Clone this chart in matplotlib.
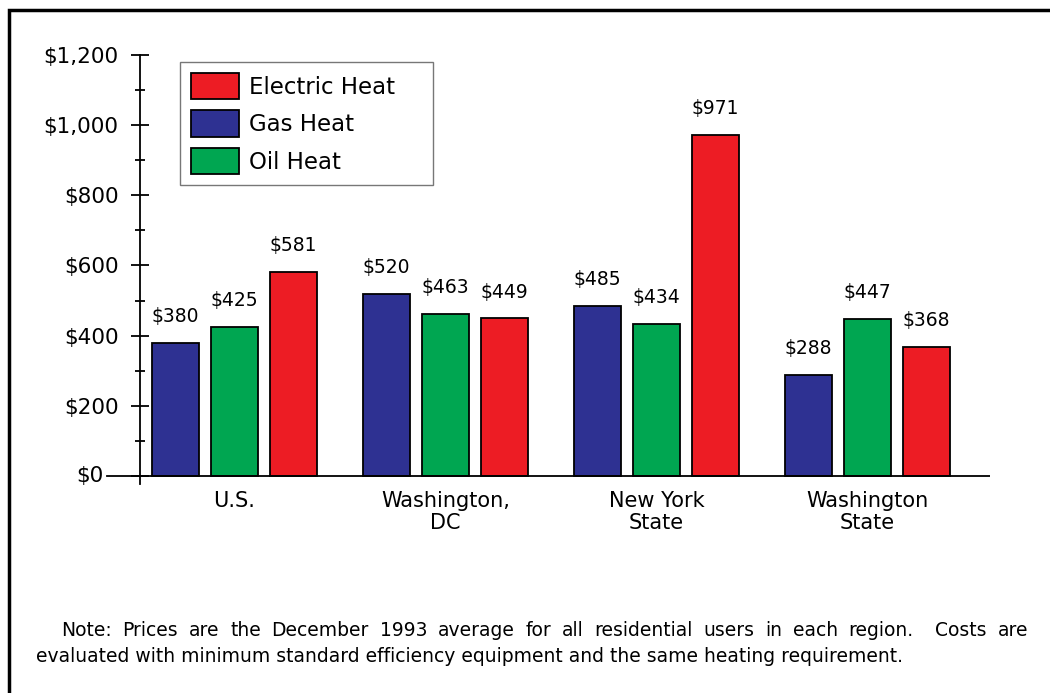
import matplotlib.pyplot as plt
from matplotlib.patches import Rectangle, Patch
from matplotlib.ticker import MultipleLocator, FuncFormatter

regions = ['U.S.', 'Washington,\nDC', 'New York\nState', 'Washington\nState']
gas_heat = [380, 520, 485, 288]
oil_heat = [425, 463, 434, 447]
electric_heat = [581, 449, 971, 368]

note_line1 = "Note: Prices are the December 1993 average for all residential users in each region.  Costs are"
note_line2 = "evaluated with minimum standard efficiency equipment and the same heating requirement."

blue = '#2E3192'
green = '#00A651'
red = '#ED1C24'

plt.rcParams['font.family'] = ['DejaVu Sans']

fig = plt.figure(figsize=(10.5, 6.93), dpi=100)
W, H = 1050, 693
ax = fig.add_axes([140 / W, 1 - 484 / H, 850 / W, (484 - 55) / H])

x = list(range(len(regions)))
step = 59 / 211
width = 47 / 211
series = [(gas_heat, blue), (oil_heat, green), (electric_heat, red)]
for k, (vals, col) in enumerate(series):
    pos = [i + (k - 1) * step for i in x]
    bars = ax.bar(pos, vals, width, color=col, edgecolor='black', linewidth=1.3, zorder=3)
    for b, v in zip(bars, vals):
        ax.annotate('$%d' % v, (b.get_x() + b.get_width() / 2, v), xytext=(0, 19),
                    textcoords='offset points', ha='center', va='center', fontsize=13.5)

ax.set_xlim((140 - 234.5) / 211, (990 - 234.5) / 211)
ax.set_ylim(-23, 1200)

ax.spines['top'].set_visible(False)
ax.spines['right'].set_visible(False)
ax.spines['bottom'].set_visible(False)
ax.spines['left'].set_linewidth(1.3)
ax.axhline(0, color='black', linewidth=1.3, zorder=4)
# baseline runs left up to the $0 label
ax.plot([-33 / 850, 0], [0, 0], color='black', linewidth=1.3,
        transform=ax.get_yaxis_transform(), clip_on=False)
ax.text(-36 / 850, 0, '$0', transform=ax.get_yaxis_transform(), ha='right', va='center',
        fontsize=15.5)

ax.yaxis.set_major_locator(MultipleLocator(200))
ax.yaxis.set_minor_locator(MultipleLocator(100))
ax.yaxis.set_major_formatter(FuncFormatter(lambda v, p: '' if v == 0 else '${:,.0f}'.format(v)))
ax.tick_params(axis='y', which='major', direction='inout', length=13, width=1.3,
               labelsize=15.5, pad=9)
ax.tick_params(axis='y', which='minor', direction='inout', length=6.5, width=1.3)

ax.set_xticks(x)
ax.set_xticklabels(regions, fontsize=15, linespacing=1.1)
ax.tick_params(axis='x', length=0, pad=5)

handles = [Patch(facecolor=red, edgecolor='black', linewidth=1.3, label='Electric Heat'),
           Patch(facecolor=blue, edgecolor='black', linewidth=1.3, label='Gas Heat'),
           Patch(facecolor=green, edgecolor='black', linewidth=1.3, label='Oil Heat')]
leg = ax.legend(handles=handles, loc='upper left',
                bbox_to_anchor=(180 / W, 1 - 62 / H - 0.01, 253 / W, 0.01), mode='expand',
                bbox_transform=fig.transFigure, fontsize=16.5, fancybox=False,
                handlelength=2.1, handleheight=1.37, labelspacing=0.5,
                handletextpad=0.45, borderpad=0.48, borderaxespad=0)
leg.get_frame().set_edgecolor('#555555')
leg.get_frame().set_linewidth(1.0)

# note: first line justified between fixed margins, second line left aligned
r = fig.canvas.get_renderer()
words = note_line1.split(' ')
texts = [fig.text(0, 1 - 631 / H, w, fontsize=13.5, ha='left', va='center') for w in words]
widths = [t.get_window_extent(r).width for t in texts]
gap = (1028 - 61 - sum(widths)) / (len(words) - 1)
xpos = 61
for t, wd in zip(texts, widths):
    t.set_x(xpos / W)
    xpos += wd + gap
fig.text(36 / W, 1 - 657 / H, note_line2, fontsize=13.5, ha='left', va='center')

fig.add_artist(Rectangle((8.5 / W, -0.1), 1.2, 1.1 - 10.5 / H, transform=fig.transFigure,
                         fill=False, edgecolor='black', linewidth=2.5))

fig.savefig('out.png', dpi=100)
